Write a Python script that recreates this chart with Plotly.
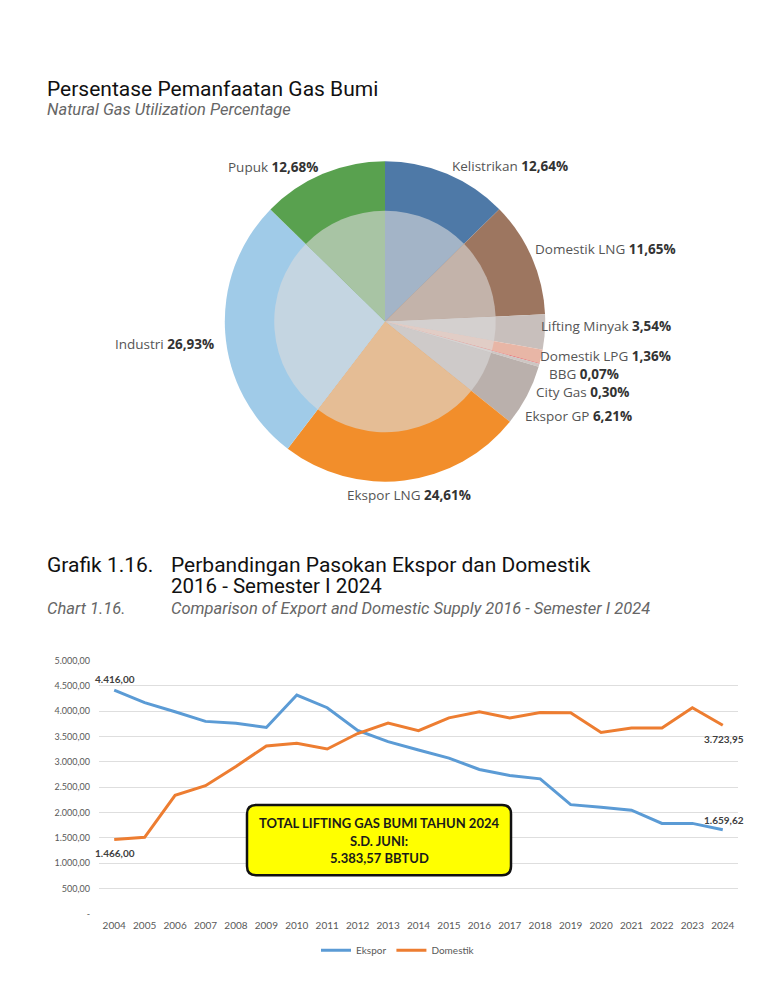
import plotly.graph_objects as go

W, H = 768, 987

# ---------------- data ----------------
pie_labels = ["Kelistrikan", "Domestik LNG", "Lifting Minyak", "Domestik LPG", "BBG",
              "City Gas", "Ekspor GP", "Ekspor LNG", "Industri", "Pupuk"]
pie_values = [12.64, 11.65, 3.54, 1.36, 0.07, 0.30, 6.21, 24.61, 26.93, 12.68]
pie_colors = ["#4e79a7", "#9d7660", "#c8bfbc", "#e8b6a6", "#e15759",
              "#cdc6c3", "#bab0ac", "#f28e2b", "#a0cbe8", "#59a14f"]

years = ["2004", "2005", "2006", "2007", "2008", "2009", "2010", "2011", "2012", "2013",
         "2014", "2015", "2016", "2017", "2018", "2019", "2020", "2021", "2022", "2023", "2024"]
ekspor = [4416.00, 4170, 3990, 3800, 3765, 3680, 4320, 4070, 3620, 3400,
          3235, 3075, 2850, 2730, 2665, 2155, 2105, 2045, 1785, 1785, 1659.62]
domestik = [1466.00, 1510, 2340, 2530, 2910, 3315, 3370, 3255, 3560, 3765,
            3615, 3870, 3990, 3865, 3975, 3970, 3580, 3670, 3670, 4070, 3723.95]

y_tickvals = [0, 500, 1000, 1500, 2000, 2500, 3000, 3500, 4000, 4500, 5000]

# pie label anchor positions (pixels, left edge / vertical centre)
label_pos = {
    "Kelistrikan": (450, 162), "Domestik LNG": (533, 246), "Lifting Minyak": (539, 324),
    "Domestik LPG": (538, 354), "BBG": (547, 372), "City Gas": (534, 390),
    "Ekspor GP": (523, 415), "Ekspor LNG": (345, 495), "Industri": (113, 342),
    "Pupuk": (226, 163),
}


# ---------------- helpers ----------------
def px(x):
    return x / W


def py(y):
    return 1 - y / H


def fmt_id(v):
    s = f"{v:,.2f}"
    return s.replace(",", "X").replace(".", ",").replace("X", ".")


def blend(hexc, grey=220, a=0.6):
    hexc = hexc.lstrip("#")
    r, g, b = (int(hexc[i:i + 2], 16) for i in (0, 2, 4))
    f = lambda c: round(c * (1 - a) + grey * a)
    return f"rgb({f(r)},{f(g)},{f(b)})"


fig = go.Figure()

# ---------------- pie ----------------
cx, cy, R, r_in = 385, 319, 162, 112
fig.add_trace(go.Pie(
    labels=pie_labels, values=pie_values, sort=False, direction="clockwise", rotation=0,
    marker=dict(colors=pie_colors, line=dict(width=0)), textinfo="none", hoverinfo="skip",
    domain=dict(x=[px(cx - R), px(cx + R)], y=[py(cy + R), py(cy - R)]), showlegend=False,
))
fig.add_trace(go.Pie(
    labels=pie_labels, values=pie_values, sort=False, direction="clockwise", rotation=0,
    marker=dict(colors=[blend(c) for c in pie_colors], line=dict(width=0)),
    textinfo="none", hoverinfo="skip",
    domain=dict(x=[px(cx - r_in), px(cx + r_in)], y=[py(cy + r_in), py(cy - r_in)]),
    showlegend=False,
))

annotations = []
for lab, val in zip(pie_labels, pie_values):
    x0, y0 = label_pos[lab]
    vtxt = f"{val:.2f}".replace(".", ",") + "%"
    txt_ = (f"<span style='color:#555555'>{lab}</span> "
            f"<b style='color:#333333'>{vtxt}</b>")
    annotations.append(dict(
        x=px(x0), y=py(y0), xref="paper", yref="paper", xanchor="left", yanchor="middle",
        text=txt_, showarrow=False, font=dict(family="Open Sans", size=13.5),
    ))

# ---------------- line chart ----------------
fig.add_trace(go.Scatter(x=years, y=ekspor, mode="lines", name="Ekspor",
                         line=dict(color="#5b9bd5", width=3), xaxis="x", yaxis="y"))
fig.add_trace(go.Scatter(x=years, y=domestik, mode="lines", name="Domestik",
                         line=dict(color="#ed7d31", width=3), xaxis="x", yaxis="y"))

# end-point data labels (x given as category index)
lab_font = dict(family="Lato", size=10, color="#404040")
last = len(years) - 1
for series, idx, shift in [(ekspor, 0, 11), (domestik, 0, -13),
                           (domestik, last, -14), (ekspor, last, 10)]:
    annotations.append(dict(x=idx, y=series[idx], xref="x", yref="y",
                            text=f"<b>{fmt_id(series[idx])}</b>", showarrow=False,
                            yshift=shift, xshift=1, font=lab_font))

tick_font = dict(family="Lato", size=9, color="#595959")
fig.update_layout(
    xaxis=dict(domain=[px(99), px(738)], type="category", range=[-0.5, len(years) - 0.5],
               showgrid=False, zeroline=False, showline=False, ticks="",
               tickfont=dict(family="Lato", size=10, color="#595959"),
               ticklabelstandoff=4),
    yaxis=dict(domain=[py(918), py(662)], range=[0, 5000], tickvals=y_tickvals,
               ticktext=["-" if v == 0 else fmt_id(v) for v in y_tickvals],
               showgrid=True, gridcolor="#dedede", gridwidth=1, zeroline=False,
               showline=False, ticks="", tickfont=tick_font, ticklabelstandoff=8),
)

# yellow callout box
bx0, by0, bx1, by1, rr = 247, 808, 511, 879, 9
path = (f"M {px(bx0 + rr)} {py(by0)} L {px(bx1 - rr)} {py(by0)} "
        f"Q {px(bx1)} {py(by0)} {px(bx1)} {py(by0 + rr)} "
        f"L {px(bx1)} {py(by1 - rr)} Q {px(bx1)} {py(by1)} {px(bx1 - rr)} {py(by1)} "
        f"L {px(bx0 + rr)} {py(by1)} Q {px(bx0)} {py(by1)} {px(bx0)} {py(by1 - rr)} "
        f"L {px(bx0)} {py(by0 + rr)} Q {px(bx0)} {py(by0)} {px(bx0 + rr)} {py(by0)} Z")
shapes = [dict(type="path", path=path, xref="paper", yref="paper",
               fillcolor="#ffff00", line=dict(color="#111111", width=2.5), layer="above")]
box_lines = ["TOTAL LIFTING GAS BUMI TAHUN 2024", "S.D. JUNI:", "5.383,57 BBTUD"]
for i, t in enumerate(box_lines):
    annotations.append(dict(x=px(379), y=py(826 + 18 * i), xref="paper", yref="paper",
                            text=f"<b>{t}</b>", showarrow=False, xanchor="center",
                            yanchor="middle",
                            font=dict(family="Lato", size=13, color="#1a1a1a")))


# ---------------- titles ----------------
def txt(x, y, t, size, color, italic=False, family="Roboto"):
    if italic:
        t = f"<i>{t}</i>"
    annotations.append(dict(x=px(x), y=py(y), xref="paper", yref="paper", text=t,
                            showarrow=False, xanchor="left", yanchor="middle",
                            font=dict(family=family, size=size, color=color)))


txt(45, 84, "Persentase Pemanfaatan Gas Bumi", 21, "#111111")
txt(45, 105, "Natural Gas Utilization Percentage", 16.5, "#666666", italic=True)
txt(45, 565, "Grafik 1.16.", 21, "#111111")
txt(169, 565, "Perbandingan Pasokan Ekspor dan Domestik", 21, "#111111")
txt(169, 587, "2016 - Semester I 2024", 20.5, "#111111")
txt(45, 609, "Chart 1.16.", 16.5, "#666666", italic=True)
txt(169, 609, "Comparison of Export and Domestic Supply 2016 - Semester I 2024", 16.5,
    "#666666", italic=True)

fig.update_layout(
    width=W, height=H, margin=dict(l=0, r=0, t=0, b=0),
    paper_bgcolor="white", plot_bgcolor="white",
    annotations=annotations, shapes=shapes,
    showlegend=True,
    legend=dict(orientation="h", x=px(398), y=py(955), xanchor="center", yanchor="middle",
                font=dict(family="Lato", size=10, color="#595959"), itemwidth=30,
                bgcolor="rgba(0,0,0,0)"),
)

fig.write_html("out.html", config={"displayModeBar": False},
               post_script="document.body.style.margin='0';"
                           "document.body.style.overflow='hidden';")
